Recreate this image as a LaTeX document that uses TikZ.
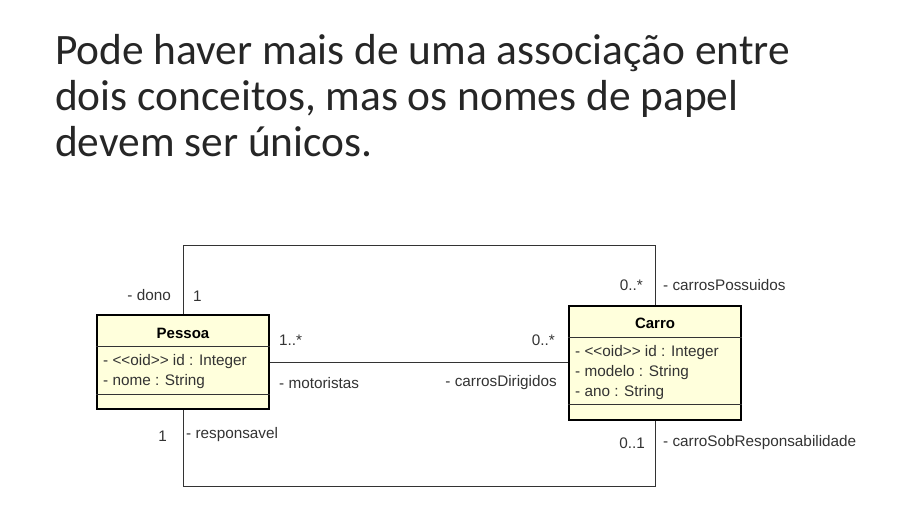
\documentclass[tikz,border=0pt]{standalone}
\usepackage{fontspec}
\setmainfont{Carlito}
\newfontfamily\umlfont{Liberation Sans}
\usepackage{xcolor}
\usetikzlibrary{positioning, calc}
\definecolor{classfill}{HTML}{FFFFDC}
\definecolor{umlgray}{HTML}{333333}
\definecolor{titlegray}{HTML}{262626}

\begin{document}
\begin{tikzpicture}[x=1pt, y=-1pt,
    every node/.style={font=\umlfont\fontsize{15.3}{18}\selectfont, text=umlgray, inner sep=0pt},
    umlclass/.style={draw=black, line width=2.2pt, fill=classfill, minimum width=172pt},
    divider/.style={draw=umlgray, line width=0.8pt},
    assoc/.style={draw=umlgray, line width=0.9pt}]
    \useasboundingbox (0,0) rectangle (907,519);
    % title
    \node[anchor=base west, align=left, text=titlegray,
          font=\fontsize{43.4}{46}\selectfont] (title) at (55,156)
        {Pode haver mais de uma associação entre\\
         dois conceitos, mas os nomes de papel\\
         devem ser únicos.};
    % classes
    \node[umlclass, minimum height=94pt] (pessoa) at (183,362) {};
    \node[umlclass, minimum height=114pt] (carro) at (655,363) {};
    \node[font=\umlfont\bfseries\fontsize{15}{18}\selectfont, text=black] (pessoaname) at (183,333) {Pessoa};
    \node[font=\umlfont\bfseries\fontsize{15}{18}\selectfont, text=black] (carroname) at (655,323) {Carro};
    \draw[divider] (pessoa.west |- 0,346) -- (pessoa.east |- 0,346);
    \draw[divider] (pessoa.west |- 0,394) -- (pessoa.east |- 0,394);
    \draw[divider] (carro.west |- 0,337) -- (carro.east |- 0,337);
    \draw[divider] (carro.west |- 0,404) -- (carro.east |- 0,404);
    \node[anchor=west] (pessoaid) at (103,362) {- <<oid>> id : Integer};
    \node[anchor=west] (pessoanome) at (103,382) {- nome : String};
    \foreach \txt [count=\i] in {- <<oid>> id : Integer, - modelo : String, - ano : String}
        \node[anchor=west] (carroattr\i) at (575,333+20*\i) {\txt};
    % associations
    \coordinate (topline) at (0,245);
    \coordinate (botline) at (0,486);
    \draw[assoc] (pessoa.north) -- (pessoa.north |- topline) -| (carro.north);
    \draw[assoc] (pessoa.south) -- (pessoa.south |- botline) -| (carro.south);
    \draw[assoc] (pessoa.east) -- (pessoa.east -| carro.west);
    % roles and multiplicities
    \node[anchor=east] (dono) at (171,295) {- dono};
    \node[anchor=west] (donomult) at (193,296) {1};
    \node[anchor=east] (posmult) at (643,285) {0..*};
    \node[anchor=west] (possuidos) at (663,285) {- carrosPossuidos};
    \node[anchor=west] (motmult) at (279,340) {1..*};
    \node[anchor=west] (motoristas) at (279,383) {- motoristas};
    \node[anchor=east] (dirmult) at (555,340) {0..*};
    \node[anchor=east] (dirigidos) at (557,383) {- carrosDirigidos};
    \node[anchor=east] (respmult) at (167,436) {1};
    \node[anchor=west] (responsavel) at (186,435) {- responsavel};
    \node[anchor=east] (sobmult) at (645,443) {0..1};
    \node[anchor=west] (sobresp) at (663,443) {- carroSobResponsabilidade};
\end{tikzpicture}
\end{document}
